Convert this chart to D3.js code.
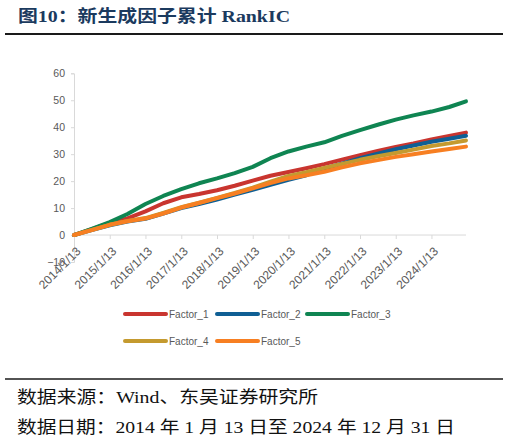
<!DOCTYPE html>
<html><head><meta charset="utf-8">
<script src="https://cdn.jsdelivr.net/npm/d3@7"></script>
<style>body{margin:0;background:#fff}svg{display:block}</style>
</head><body>
<svg id="c" width="509" height="442"></svg>
<script>
const dates = ["2014-01-13","2014-07-13","2015-01-13","2015-07-13","2016-01-13","2016-07-13","2017-01-13","2017-07-13","2018-01-13","2018-07-13","2019-01-13","2019-07-13","2020-01-13","2020-07-13","2021-01-13","2021-07-13","2022-01-13","2022-07-13","2023-01-13","2023-07-13","2024-01-13","2024-07-13","2024-12-31"];
const factor1 = [0,2.2,4.5,6.2,8.8,11.8,14.0,15.2,16.6,18.3,20.2,22.0,23.4,24.8,26.3,28.0,29.6,31.2,32.7,34.0,35.5,36.8,38.0];
const factor2 = [0,1.8,3.6,5.0,6.0,8.0,10.0,11.5,13.2,15.0,16.8,18.6,20.5,22.2,24.6,26.5,28.5,30.2,31.8,33.2,34.6,35.7,36.8];
const factor3 = [0,2.3,4.8,7.8,11.5,14.5,17.0,19.2,21.0,23.0,25.3,28.5,31.0,32.8,34.4,36.8,38.9,40.9,42.8,44.4,45.8,47.5,49.6];
const factor4 = [0,1.9,3.8,5.2,6.3,8.2,10.3,12.0,13.8,15.6,17.6,19.8,21.9,23.3,24.9,26.4,27.9,29.2,30.4,31.7,33.0,34.0,35.1];
const factor5 = [0,1.8,3.8,5.1,6.1,8.0,10.2,11.9,13.7,15.4,17.3,19.3,21.0,22.2,23.5,25.1,26.6,27.8,29.0,30.0,31.0,31.9,32.8];
const seriesNames = ["Factor_1","Factor_2","Factor_3","Factor_4","Factor_5"];
const seriesColors = ["#C9352F","#0F5F94","#0F8552","#C49A2F","#F77F22"];
const yTicks = [-10,0,10,20,30,40,50,60];
const xTickLabels = ["2014/1/13","2015/1/13","2016/1/13","2017/1/13","2018/1/13","2019/1/13","2020/1/13","2021/1/13","2022/1/13","2023/1/13","2024/1/13"];

const svg = d3.select("#c");
const parse = d3.timeParse("%Y-%m-%d");
const parseTick = d3.timeParse("%Y/%m/%d");
const x = d3.scaleTime().domain([parse("2014-01-13"), parse("2024-12-31")]).range([74, 466]);
const y = d3.scaleLinear().domain([-10, 60]).range([262, 73.3]);
const axisColor = "#D9D9D9", textColor = "#595959";

// title
svg.append("text").attr("x",18).attr("y",22)
  .attr("font-family","'Liberation Serif','Noto Sans CJK SC'").attr("font-weight","bold")
  .attr("font-size",17).attr("fill","#1B3A5E")
  .attr("textLength",272).attr("lengthAdjust","spacingAndGlyphs")
  .text("图10：新生成因子累计 RankIC");
svg.append("line").attr("x1",5).attr("x2",503).attr("y1",34).attr("y2",34).attr("stroke","#1a1a1a").attr("stroke-width",2);

// y axis
const gy = svg.append("g").attr("transform","translate(74,0)")
  .call(d3.axisLeft(y).tickValues(yTicks).tickSize(3).tickPadding(6));
gy.select(".domain").attr("stroke",axisColor);
gy.selectAll(".tick line").attr("stroke",axisColor);
gy.selectAll(".tick text").attr("fill",textColor).attr("font-size",10.5).attr("font-family","'Liberation Sans',Arial,sans-serif");

// x axis at y=0
const gx = svg.append("g").attr("transform",`translate(0,${y(0)})`)
  .call(d3.axisBottom(x).tickValues(xTickLabels.map(parseTick)).tickSize(4).tickFormat((d,i)=>xTickLabels[i]));
gx.select(".domain").attr("stroke",axisColor).attr("d",`M74,0H466`);
gx.selectAll(".tick line").attr("stroke",axisColor);
gx.selectAll(".tick text").attr("fill",textColor).attr("font-size",12).attr("font-family","'Liberation Sans',Arial,sans-serif")
  .attr("text-anchor","end").attr("transform","translate(4,14) rotate(-45)").attr("dy","0.35em").attr("y",0);

// lines
const allSeries = [factor1,factor2,factor3,factor4,factor5];
const pts = dates.map(parse);
const line = d3.line().x((d,i)=>x(pts[i])).y(d=>y(d)).curve(d3.curveLinear);
allSeries.forEach((s,k)=>{
  svg.append("path").datum(s).attr("d",line).attr("fill","none")
    .attr("stroke",seriesColors[k]).attr("stroke-width",4).attr("stroke-linejoin","round").attr("stroke-linecap","round");
});

// legend
const legPos = [[125,314],[217,314],[307,314],[125,341],[217,341]];
seriesNames.forEach((n,k)=>{
  const [lx,ly] = legPos[k];
  svg.append("line").attr("x1",lx).attr("x2",lx+41).attr("y1",ly).attr("y2",ly)
    .attr("stroke",seriesColors[k]).attr("stroke-width",4).attr("stroke-linecap","round");
  svg.append("text").attr("x",lx+44).attr("y",ly+3.5).attr("fill",textColor).attr("font-size",10)
    .attr("font-family","'Liberation Sans',Arial,sans-serif").text(n);
});

// footer
svg.append("line").attr("x1",5).attr("x2",503).attr("y1",379).attr("y2",379).attr("stroke","#1a1a1a").attr("stroke-width",1.5);
svg.append("text").attr("x",17).attr("y",403).attr("font-size",17).attr("fill","#111")
  .attr("font-family","'Liberation Serif','Noto Sans CJK SC'").attr("textLength",301).attr("lengthAdjust","spacingAndGlyphs")
  .text("数据来源：Wind、东吴证券研究所");
svg.append("text").attr("x",17).attr("y",433).attr("font-size",17).attr("fill","#111")
  .attr("font-family","'Liberation Serif','Noto Sans CJK SC'").attr("textLength",438).attr("lengthAdjust","spacingAndGlyphs")
  .text("数据日期：2014 年 1 月 13 日至 2024 年 12 月 31 日");
</script>
</body></html>
